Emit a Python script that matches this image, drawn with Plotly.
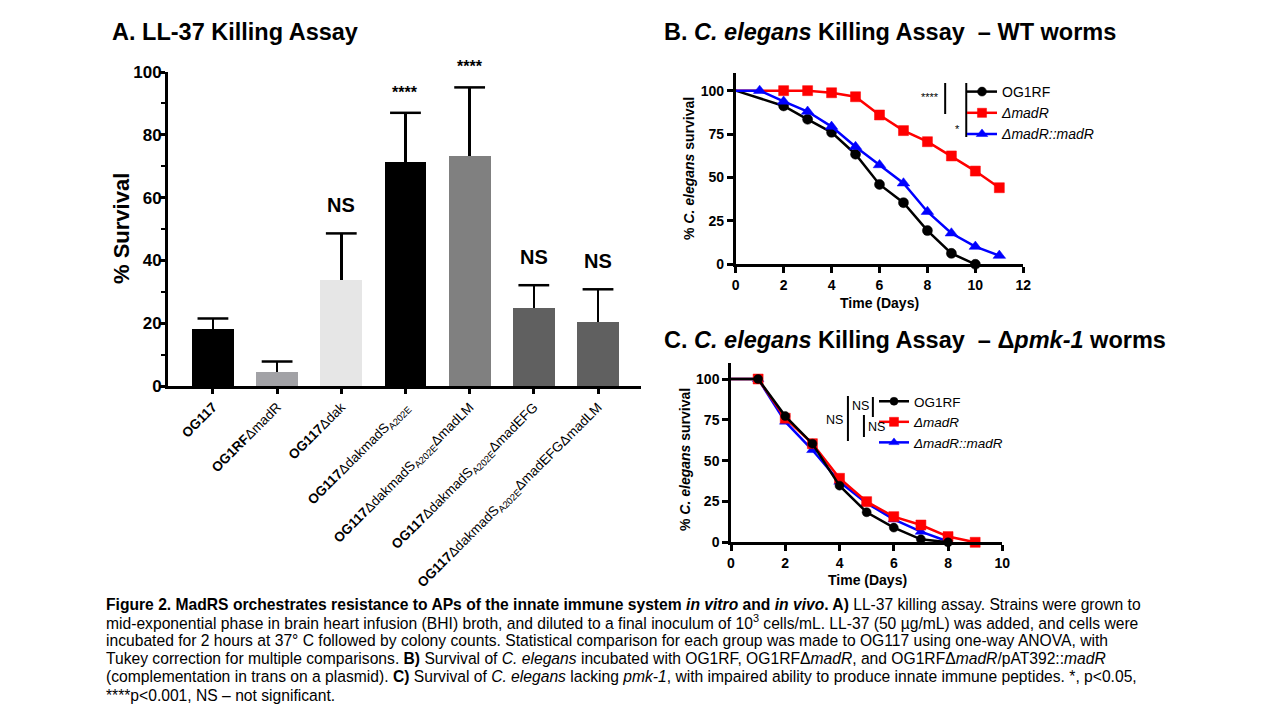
import plotly.graph_objects as go

# ---------------- Panel A data ----------------
strains = ["OG117", "OG1RFΔmadR", "OG117Δdak", "OG117ΔdakmadS A202E",
           "OG117ΔdakmadS A202E ΔmadLM", "OG117ΔdakmadS A202E ΔmadEFG",
           "OG117ΔdakmadS A202E ΔmadEFGΔmadLM"]
strain_labels = ["<b>OG117</b>", "<b>OG1RF</b>ΔmadR", "<b>OG117</b>Δdak",
                 "<b>OG117</b>ΔdakmadS<sub>A202E</sub>",
                 "<b>OG117</b>ΔdakmadS<sub>A202E</sub>ΔmadLM",
                 "<b>OG117</b>ΔdakmadS<sub>A202E</sub>ΔmadEFG",
                 "<b>OG117</b>ΔdakmadS<sub>A202E</sub>ΔmadEFGΔmadLM"]
survival = [18.1, 4.4, 33.8, 71.3, 73.4, 25.0, 20.5]
survival_err = [3.4, 3.4, 14.8, 15.7, 21.7, 7.1, 10.3]
significance = ["", "", "NS", "****", "****", "NS", "NS"]
bar_colors = ["#000000", "#a2a2a6", "#e6e6e6", "#000000", "#808080", "#606060", "#606060"]
a_yticks = [0, 20, 40, 60, 80, 100]

# ---------------- Panel B data (WT worms) ----------------
wt_og1rf_days = [0, 2, 3, 4, 5, 6, 7, 8, 9, 10]
wt_og1rf_surv = [100, 91.2, 83.5, 76, 63.4, 46, 35.5, 19.4, 6.3, 0]
wt_madr_days = [0, 2, 3, 4, 5, 6, 7, 8, 9, 10, 11]
wt_madr_surv = [100, 100, 100, 98.8, 96.5, 86, 77, 70.6, 62.4, 53.7, 44.1]
wt_comp_days = [0, 1, 2, 3, 4, 5, 6, 7, 8, 9, 10, 11]
wt_comp_surv = [100, 100, 93.8, 88, 79.3, 67.7, 57.2, 46.7, 30.3, 17.9, 10.2, 5]

# ---------------- Panel C data (pmk-1 worms) ----------------
pmk_og1rf_days = [0, 1, 2, 3, 4, 5, 6, 7, 8]
pmk_og1rf_surv = [100, 100, 77.3, 60.4, 34.7, 18.4, 9, 1.8, 0]
pmk_madr_days = [0, 1, 2, 3, 4, 5, 6, 7, 8, 9]
pmk_madr_surv = [100, 100, 76, 60.4, 39.2, 24.9, 15.7, 10.6, 3.5, 0]
pmk_comp_days = [0, 1, 2, 3, 4, 5, 6, 7, 8]
pmk_comp_surv = [100, 100, 73.9, 56.5, 37.1, 24, 14, 6.5, 0.5]

surv_ticks = [0, 25, 50, 75, 100]

series_names = ["OG1RF", "<i>ΔmadR</i>", "<i>ΔmadR::madR</i>"]

# ---------------- helpers ----------------
W, H = 1280, 720
def px(x):
    return x / W
def py(y):
    return 1 - y / H

FONT = "Liberation Sans, Arial, sans-serif"

fig = go.Figure()

# ---- Panel A bars (stem of error bar only, no caps) ----
fig.add_trace(go.Bar(
    x=strains, y=survival, width=0.65,
    marker=dict(color=bar_colors, line=dict(width=0)),
    error_y=dict(type="data", symmetric=False, array=survival_err,
                 arrayminus=[0] * len(survival), color="black", thickness=2.5, width=0),
    xaxis="x", yaxis="y", showlegend=False, hoverinfo="skip"))
# top caps of the error bars
fig.add_trace(go.Scatter(
    x=strains, y=[v + e for v, e in zip(survival, survival_err)], mode="markers",
    marker=dict(symbol="line-ew", size=22, color="black", line=dict(color="black", width=2.5)),
    xaxis="x", yaxis="y", showlegend=False, hoverinfo="skip", cliponaxis=False))

for s, v, e, lab in zip(strains, survival, survival_err, significance):
    if not lab:
        continue
    is_star = lab.startswith("*")
    fig.add_annotation(x=s, y=v + e, xref="x", yref="y", text="<b>%s</b>" % lab,
                       showarrow=False, xanchor="center", yanchor="bottom",
                       yshift=10 if is_star else 15,
                       font=dict(family=FONT, size=16 if is_star else 20, color="black"))

# ---- Panel B / C lines ----
def add_series(days, surv, name, color, symbol, msize, xa, ya, leg, rank):
    sizes = [0] + [msize] * (len(days) - 1)
    fig.add_trace(go.Scatter(
        x=days, y=surv, mode="lines+markers", name=name,
        line=dict(color=color, width=2.5),
        marker=dict(symbol=symbol, size=sizes, color=color, opacity=1,
                    line=dict(width=0.5, color=color)),
        xaxis=xa, yaxis=ya, legend=leg, legendrank=rank, cliponaxis=False,
        hoverinfo="skip"))

add_series(wt_og1rf_days, wt_og1rf_surv, series_names[0], "#000000", "circle", 10, "x2", "y2", "legend", 1)
add_series(wt_madr_days, wt_madr_surv, series_names[1], "#ff0000", "square", 10, "x2", "y2", "legend", 2)
add_series(wt_comp_days, wt_comp_surv, series_names[2], "#0000ff", "triangle-up", 11, "x2", "y2", "legend", 3)

add_series(pmk_comp_days, pmk_comp_surv, series_names[2], "#0000ff", "triangle-up", 10, "x3", "y3", "legend2", 3)
add_series(pmk_madr_days, pmk_madr_surv, series_names[1], "#ff0000", "square", 10, "x3", "y3", "legend2", 2)
add_series(pmk_og1rf_days, pmk_og1rf_surv, series_names[0], "#000000", "circle", 9, "x3", "y3", "legend2", 1)

axis_common = dict(showline=True, linecolor="black", ticks="outside", tickcolor="black",
                   showgrid=False, zeroline=False, automargin=False)

fig.update_layout(
    width=W, height=H, margin=dict(l=0, r=0, t=0, b=0, pad=0, autoexpand=False),
    paper_bgcolor="white", plot_bgcolor="rgba(0,0,0,0)",
    font=dict(family=FONT, color="black"),
    bargap=0,
    xaxis=dict(domain=[px(168), px(641)], range=[-0.7, 6.67], anchor="y",
               tickvals=strains, ticktext=strain_labels, tickangle=-45,
               tickfont=dict(family=FONT, size=13.5, color="black"),
               linewidth=3, ticklen=5, tickwidth=2.5, **axis_common),
    yaxis=dict(domain=[py(386), py(72)], range=[0, 100], anchor="x",
               tickvals=a_yticks, ticklabelstandoff=-6,
               tickfont=dict(family=FONT, size=17, color="black", weight="bold"),
               linewidth=3, ticklen=6, tickwidth=2.5,
               minor=dict(dtick=10, tick0=0, ticks="outside", ticklen=4, tickwidth=2, tickcolor="black"),
               **axis_common),
    xaxis2=dict(domain=[px(735.7), px(1023.3)], range=[0, 12], anchor="y2", dtick=2, tick0=0,
                tickfont=dict(family=FONT, size=14, color="black", weight="bold"),
                linewidth=2.5, ticklen=6, tickwidth=2.5, **axis_common),
    yaxis2=dict(domain=[py(264.3), py(73.3)], range=[0, 110], anchor="x2", tickvals=surv_ticks,
                tickfont=dict(family=FONT, size=14, color="black", weight="bold"),
                linewidth=2.5, ticklen=6, tickwidth=2.5, **axis_common),
    xaxis3=dict(domain=[px(731), px(1002.3)], range=[0, 10], anchor="y3", dtick=2, tick0=0,
                tickfont=dict(family=FONT, size=14, color="black", weight="bold"),
                linewidth=2.5, ticklen=6, tickwidth=2.5, **axis_common),
    yaxis3=dict(domain=[py(542.3), py(362.7)], range=[0, 110], anchor="x3", tickvals=surv_ticks,
                tickfont=dict(family=FONT, size=14, color="black", weight="bold"),
                linewidth=2.5, ticklen=6, tickwidth=2.5, **axis_common),
    legend=dict(x=px(962), y=py(76), xanchor="left", yanchor="top",
                font=dict(family=FONT, size=14, color="black"),
                bgcolor="rgba(0,0,0,0)", itemwidth=30, tracegroupgap=0),
    legend2=dict(x=px(874), y=py(386), xanchor="left", yanchor="top",
                 font=dict(family=FONT, size=13.5, color="black"),
                 bgcolor="rgba(0,0,0,0)", itemwidth=30, tracegroupgap=0),
)

# ---- titles ----
titles = [
    (110, 32, "<b>A. LL-37 Killing Assay</b>"),
    (662, 32, "<b>B. <i>C. elegans</i> Killing Assay \u00a0– WT worms</b>"),
    (662, 340, "<b>C. <i>C. elegans</i> Killing Assay \u00a0– Δ<i>pmk-1</i> worms</b>"),
]
for x, y, t in titles:
    fig.add_annotation(x=px(x), y=py(y), xref="paper", yref="paper", text=t, showarrow=False,
                       xanchor="left", yanchor="middle", font=dict(family=FONT, size=23.5, color="black"))

# ---- axis titles ----
axis_titles = [
    (121, 229, "<b>% Survival</b>", -90, 22),
    (689, 169, "<b>% <i>C. elegans</i> survival</b>", -90, 14),
    (685, 460, "<b>% <i>C. elegans</i> survival</b>", -90, 14),
    (879, 303, "<b>Time (Days)</b>", 0, 14),
    (867, 580, "<b>Time (Days)</b>", 0, 14),
]
for x, y, t, ang, sz in axis_titles:
    fig.add_annotation(x=px(x), y=py(y), xref="paper", yref="paper", text=t, textangle=ang,
                       showarrow=False, xanchor="center", yanchor="middle",
                       font=dict(family=FONT, size=sz, color="black"))

# ---- significance brackets B ----
for x0, y0, y1 in [(8.74, 86.6, 104.4), (9.62, 73.3, 104.4)]:
    fig.add_shape(type="line", xref="x2", yref="y2", x0=x0, x1=x0, y0=y0, y1=y1,
                  line=dict(color="black", width=2))
fig.add_annotation(x=8.55, y=96.6, xref="x2", yref="y2", text="****", showarrow=False,
                   xanchor="right", yanchor="middle", font=dict(family=FONT, size=11, color="black"))
fig.add_annotation(x=9.45, y=78, xref="x2", yref="y2", text="*", showarrow=False,
                   xanchor="right", yanchor="middle", font=dict(family=FONT, size=11, color="black"))

# ---- significance brackets C ----
for x0, y0, y1 in [(4.31, 62, 89.6), (5.23, 76.7, 89), (4.9, 64.5, 78)]:
    fig.add_shape(type="line", xref="x3", yref="y3", x0=x0, x1=x0, y0=y0, y1=y1,
                  line=dict(color="black", width=2))
for x, y, anchor in [(4.2, 75, "right"), (5.15, 83.5, "right"), (4.98, 70.6, "left")]:
    fig.add_annotation(x=x, y=y, xref="x3", yref="y3", text="NS", showarrow=False,
                       xanchor=anchor, yanchor="middle", font=dict(family=FONT, size=12.5, color="black"))

# ---- caption ----
caption = [
    "<b>Figure 2. MadRS orchestrates resistance to APs of the innate immune system <i>in vitro</i> and <i>in vivo</i>. A)</b> LL-37 killing assay. Strains were grown to",
    "mid-exponential phase in brain heart infusion (BHI) broth, and diluted to a final inoculum of 10<sup>3</sup> cells/mL. LL-37 (50 µg/mL) was added, and cells were",
    "incubated for 2 hours at 37° C followed by colony counts. Statistical comparison for each group was made to OG117 using one-way ANOVA, with",
    "Tukey correction for multiple comparisons. <b>B)</b> Survival of <i>C. elegans</i> incubated with OG1RF, OG1RFΔ<i>madR</i>, and OG1RFΔ<i>madR</i>/pAT392::<i>madR</i>",
    "(complementation in trans on a plasmid). <b>C)</b> Survival of <i>C. elegans</i> lacking <i>pmk-1</i>, with impaired ability to produce innate immune peptides. *, p&lt;0.05,",
    "****p&lt;0.001, NS – not significant.",
]
for i, line in enumerate(caption):
    fig.add_annotation(x=px(104), y=py(604 + 18.2 * i), xref="paper", yref="paper", text=line,
                       showarrow=False, xanchor="left", yanchor="middle", align="left",
                       font=dict(family=FONT, size=15.65, color="black"))

page_fix = (
    "var gd=document.getElementById('{plot_id}');"
    "gd.style.position='fixed';gd.style.top='0px';gd.style.left='0px';"
    "document.body.style.margin='0';document.body.style.overflow='hidden';"
    "document.documentElement.style.overflow='hidden';"
)
fig.write_html("out.html", config={"displayModeBar": False, "responsive": False},
               post_script=page_fix)
